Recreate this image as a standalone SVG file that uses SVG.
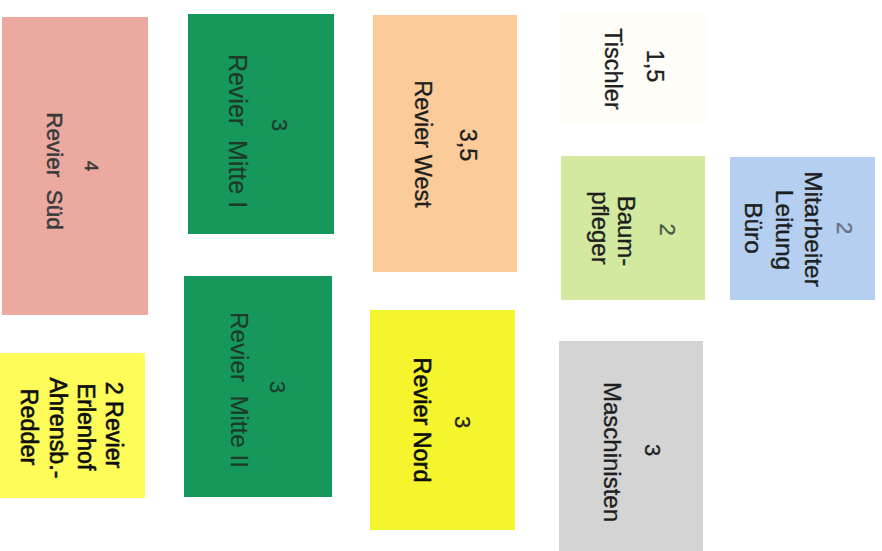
<svg xmlns="http://www.w3.org/2000/svg" width="882" height="551" viewBox="0 0 882 551">
<style>
  .t { font-family: "Liberation Sans", Arial, sans-serif; font-size: 24px; fill: #1e1e1e; stroke: #1e1e1e; stroke-width: 0.35px; text-anchor: middle; }
  .g { fill: #1d3a2a; stroke: #1d3a2a; stroke-width: 0.2px; }
  .n { font-size: 22px; }
  .b { fill: #0e0e0e; stroke: #0e0e0e; stroke-width: 0.6px; }
  .s { fill: #3a3a3a; stroke: #3a3a3a; stroke-width: 0.5px; }
</style>
<rect width="882" height="551" fill="#ffffff"/>
<g id="revier-sued">
  <rect x="2" y="17" width="146" height="298" fill="#ECA9A0"/>
  <text class="t s" style="font-size:19px" transform="translate(85 166) rotate(90)">4</text>
  <text class="t s" style="font-size:22.5px" xml:space="preserve" transform="translate(47 171) rotate(90)">Revier  Süd</text>
</g>
<g id="revier-mitte-1">
  <rect x="188" y="14" width="146" height="220" fill="#16975B"/>
  <text class="t n g" transform="translate(272 125) rotate(90)">3</text>
  <text class="t g" style="font-size:25px" xml:space="preserve" transform="translate(229 131) rotate(90)">Revier  Mitte I</text>
</g>
<g id="revier-mitte-2">
  <rect x="184" y="276" width="148" height="221" fill="#16975B"/>
  <text class="t n g" transform="translate(270 387) rotate(90)">3</text>
  <text class="t g" style="font-size:24.2px" xml:space="preserve" transform="translate(231 390) rotate(90)">Revier  Mitte II</text>
</g>
<g id="revier-erlenhof">
  <rect x="0" y="353" width="145" height="145" fill="#FDFC58"/>
  <text class="t b" style="font-size:23.3px" transform="translate(106 425) rotate(90)">2 Revier</text>
  <text class="t b" style="font-size:23.3px" transform="translate(78 427) rotate(90)">Erlenhof</text>
  <text class="t b" style="font-size:23.3px" transform="translate(50 428) rotate(90)">Ahrensb.-</text>
  <text class="t b" style="font-size:23.3px" transform="translate(21 427) rotate(90)">Redder</text>
</g>
<g id="revier-west">
  <rect x="373" y="15" width="144" height="257" fill="#FBCB9A"/>
  <text class="t" style="font-size:23.5px" transform="translate(460 145) rotate(90)">3,5</text>
  <text class="t" style="font-size:23.5px" transform="translate(415 144) rotate(90)">Revier West</text>
</g>
<g id="revier-nord">
  <rect x="370" y="310" width="145" height="220" fill="#F5F52E"/>
  <text class="t n" transform="translate(455 422) rotate(90)">3</text>
  <text class="t b" style="font-size:23.4px" transform="translate(414 420) rotate(90)">Revier Nord</text>
</g>
<g id="tischler">
  <rect x="561" y="13" width="145" height="110" fill="#FEFDF7"/>
  <text class="t" style="font-size:23.5px" transform="translate(647 66) rotate(90)">1,5</text>
  <text class="t" style="font-size:23.5px" transform="translate(605 69) rotate(90)">Tischler</text>
</g>
<g id="baumpfleger">
  <rect x="561" y="156" width="144" height="144" fill="#D4E9A0"/>
  <text class="t n" style="fill:#4a5a48;stroke:#4a5a48" transform="translate(660 229.5) rotate(90)">2</text>
  <text class="t" transform="translate(618 231) rotate(90)">Baum-</text>
  <text class="t" transform="translate(592 228) rotate(90)">pfleger</text>
</g>
<g id="buero">
  <rect x="730" y="157" width="145" height="143" fill="#B5CFF0"/>
  <text class="t n" style="fill:#6a7080;stroke:#6a7080" transform="translate(837 228) rotate(90)">2</text>
  <text class="t" style="font-size:24.5px" transform="translate(805 229) rotate(90)">Mitarbeiter</text>
  <text class="t" style="font-size:24.5px" transform="translate(776 230) rotate(90)">Leitung</text>
  <text class="t" style="font-size:24.5px" transform="translate(745 228) rotate(90)">Büro</text>
</g>
<g id="maschinisten">
  <rect x="559" y="341" width="144" height="210" fill="#D4D4D4"/>
  <text class="t n" transform="translate(645 450) rotate(90)">3</text>
  <text class="t" transform="translate(604 452) rotate(90)">Maschinisten</text>
</g>
</svg>
